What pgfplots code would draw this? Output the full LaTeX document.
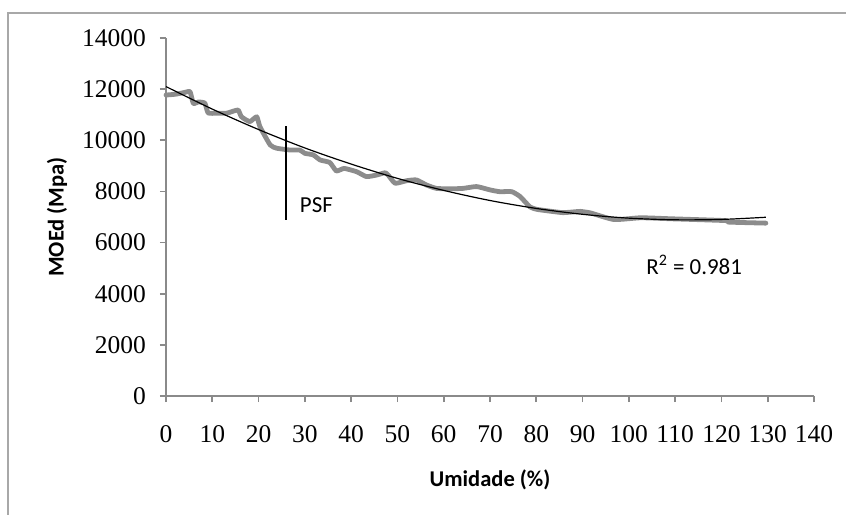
\documentclass[border=0pt]{standalone}
\usepackage{fontspec}
\setmainfont{Carlito}
\newfontfamily\tickfont{Liberation Serif}
\usepackage{pgfplots}
\pgfplotsset{compat=1.18}
\definecolor{curvegray}{HTML}{8C8C8C}
\definecolor{framegray}{HTML}{A8A8A8}
\definecolor{axisgray}{HTML}{8A8A8A}

\begin{document}
\begin{tikzpicture}
\useasboundingbox (-83bp,-59.5bp) rectangle (340bp,198bp);
\draw[framegray, line width=1.2bp] (-79bp,-70bp) -- (-79bp,191.5bp) -- (350bp,191.5bp);
\begin{axis}[
  at={(0,0)}, anchor=south west, scale only axis,
  width=324bp, height=179bp,
  xmin=0, xmax=140, ymin=0, ymax=14000,
  xtick={0,10,...,140}, ytick={0,2000,...,14000},
  axis lines=left, axis line style={-, axisgray, line width=0.8bp},
  tick align=outside, major tick length=3bp,
  tick style={axisgray, line width=0.8bp},
  scaled y ticks=false,
  /pgf/number format/assume math mode=true,
  yticklabel style={/pgf/number format/1000 sep={}, xshift=-3.5bp},
  xticklabel style={yshift=-8bp},
  ticklabel style={font=\tickfont\fontsize{12.8}{14}\selectfont, text=black},
  xlabel={Umidade (\%)}, ylabel={MOEd (Mpa)},
  xlabel style={at={(axis description cs:0.5,-0.2346)}, anchor=center, font=\bfseries\fontsize{11.3}{13}\selectfont},
  ylabel style={at={(axis description cs:-0.168,0.5)}, anchor=center, font=\bfseries\fontsize{11.3}{13}\selectfont},
  clip=false,
]
% measured curve
\addplot[curvegray, line width=2.4bp, line join=round, line cap=round, smooth, tension=0.3] coordinates {
  (0,11770) (2,11800) (4,11870) (5.2,11900) (5.9,11440) (7,11500) (8.4,11450)
  (9.1,11070) (11,11060) (13.1,11060) (14.2,11120) (15.6,11180) (16.3,10920)
  (18.1,10730) (19.6,10920) (20.3,10530) (22.5,9820) (23.9,9690) (26.8,9620)
  (28.9,9620) (30,9490) (31.8,9430) (33.3,9230) (35.4,9130) (36.8,8800)
  (38.5,8900) (41.2,8770) (43.3,8580) (45.5,8640) (47.3,8730) (48,8640)
  (49.5,8320) (52,8420) (54.1,8450) (56.3,8250) (58.4,8120) (61.3,8100)
  (64.2,8120) (67.1,8190) (70,8060) (72.1,7990) (74.7,7990) (76.5,7800)
  (78.6,7400) (80.1,7300) (82.9,7230) (85.8,7170) (88.7,7210) (89.5,7220)
  (91.7,7160) (96.8,6900) (102.6,6970) (109.2,6930) (120.8,6860) (121.6,6800)
  (129.6,6760)
};
% trend line
\addplot[black, line width=0.6bp, smooth] coordinates {
  (0,12100) (10,11220) (20,10420) (30,9700) (40,9070) (50,8510) (60,8040)
  (70,7645) (80,7335) (90,7105) (100,6955) (110,6890) (120,6905) (129.6,6990)
};
% PSF marker
\addplot[black, line width=0.9bp] coordinates {(26,6900) (26,10560)};
\node[font=\fontsize{11.5}{13}\selectfont] at (axis cs:32.5,7470) {PSF};
\node[font=\fontsize{11.5}{13}\selectfont] at (axis cs:114.1,5123) {R\textsuperscript{2} = 0.981};
\end{axis}
\end{tikzpicture}
\end{document}
